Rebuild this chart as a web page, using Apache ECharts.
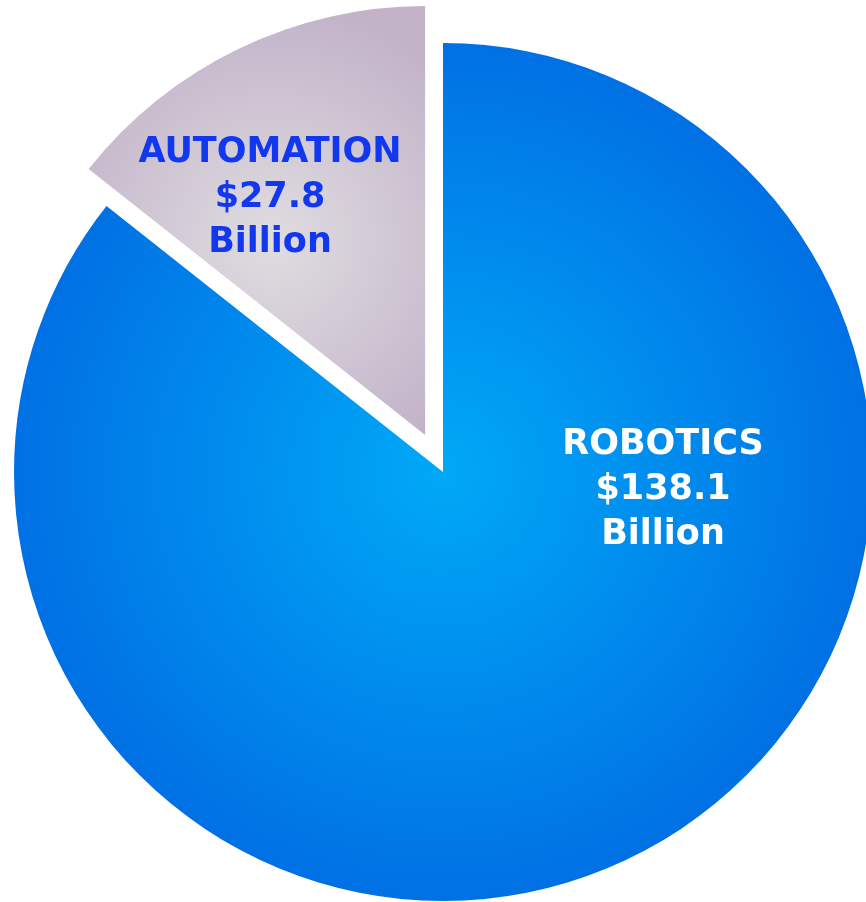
<!DOCTYPE html>
<html>
<head>
<meta charset="utf-8">
<script src="https://cdn.jsdelivr.net/npm/echarts@6/dist/echarts.min.js"></script>
<style>html,body{margin:0;padding:0;background:#fff;}#c{width:866px;height:902px;}</style>
</head>
<body>
<div id="c"></div>
<script>
// Data
const categories = ['ROBOTICS', 'AUTOMATION'];
const labelAmounts = ['$138.1', '$27.8'];
const labelUnits = ['Billion', 'Billion'];
// slice sizes as drawn (angles: ~308.3° vs ~51.7°)
const sliceValues = [165.9, 27.8];

const chart = echarts.init(document.getElementById('c'), null, {renderer: 'canvas'});

const fills = [
  new echarts.graphic.RadialGradient(0.5, 0.5, 0.5, [
    {offset: 0, color: '#00A9F7'},
    {offset: 1, color: '#0071E4'}
  ]),
  new echarts.graphic.RadialGradient(0.55, 0.55, 0.7, [
    {offset: 0, color: '#DFDDE0'},
    {offset: 1, color: '#C3B3C9'}
  ])
];
const labelColors = ['#FFFFFF', '#1138EE'];
const labelCenters = [[663, 490], [270, 198]];

chart.setOption({
  animation: false,
  series: [{
    type: 'pie',
    center: [443, 472],
    radius: 429,
    startAngle: 90,
    clockwise: true,
    selectedMode: 'single',
    selectedOffset: 41,
    emphasis: {disabled: true},
    label: {show: false},
    labelLine: {show: false},
    data: categories.map(function (c, i) {
      return {
        name: c,
        value: sliceValues[i],
        selected: i === 1,
        itemStyle: {color: fills[i]},
        select: {itemStyle: {color: fills[i]}}
      };
    })
  }],
  graphic: categories.map(function (c, i) {
    return {
      type: 'text',
      x: labelCenters[i][0],
      y: labelCenters[i][1],
      z: 100,
      style: {
        text: c + '\n' + labelAmounts[i] + '\n' + labelUnits[i],
        fill: labelColors[i],
        fontFamily: "'DejaVu Sans', sans-serif",
        fontWeight: 'bold',
        fontSize: 35,
        lineHeight: 45,
        align: 'center',
        verticalAlign: 'middle'
      }
    };
  })
});
</script>
</body>
</html>
